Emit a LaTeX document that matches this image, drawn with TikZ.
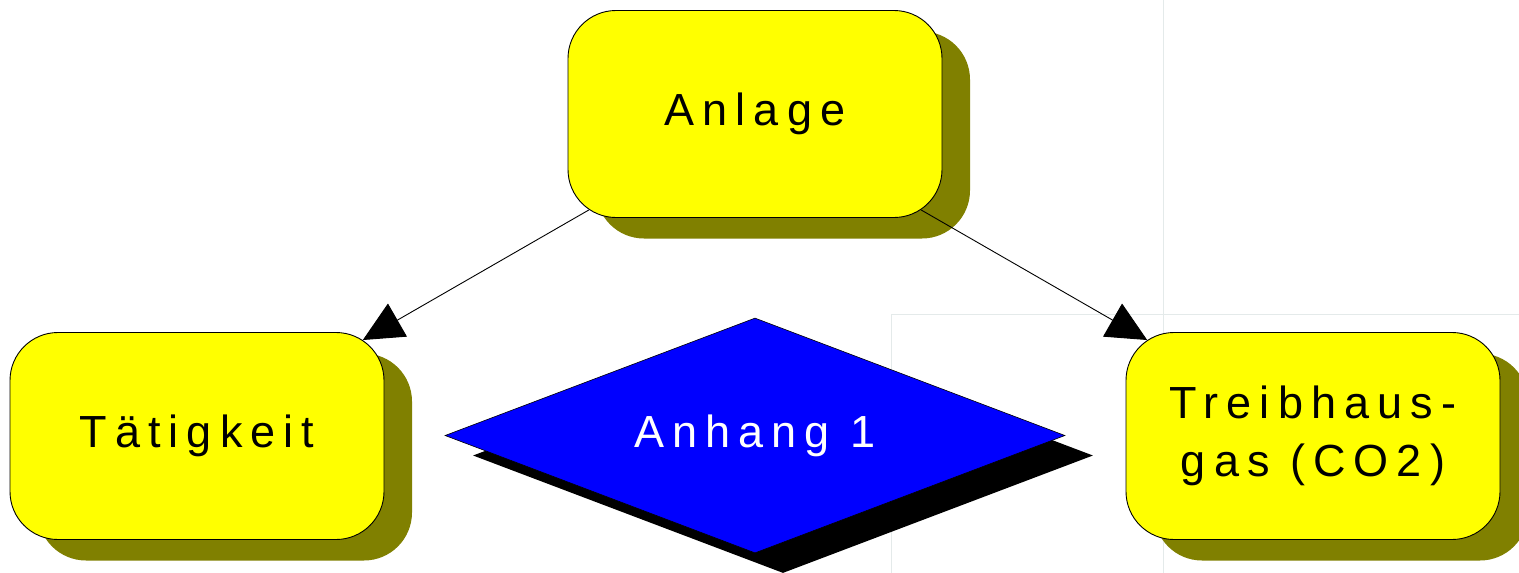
\documentclass[tikz,border=0pt]{standalone}
\usepackage{fontspec}
\usetikzlibrary{shapes.geometric,shadows,arrows.meta}
\newfontfamily\lblfont[LetterSpace=18]{Liberation Sans}
\definecolor{boxyellow}{RGB}{255,255,0}
\definecolor{boxshadow}{RGB}{128,128,0}
\definecolor{rhombblue}{RGB}{0,0,255}
\definecolor{gridgrey}{RGB}{228,234,234}
\tikzset{
  lbl/.style={font=\lblfont\fontsize{45}{58}\selectfont},
  roundbox/.style={lbl, rectangle, rounded corners=48pt, draw=black, line width=0.9pt,
    fill=boxyellow, minimum width=374pt, minimum height=207pt, inner sep=0pt, align=center,
    general shadow={shadow xshift=28pt, shadow yshift=-21pt, fill=boxshadow, draw=none}},
  rhomb/.style={lbl, diamond, aspect=2.6, draw=black, line width=0.6pt, fill=rhombblue,
    text=white, minimum width=620pt, minimum height=235pt, inner sep=0pt,
    general shadow={shadow xshift=28pt, shadow yshift=-20pt, fill=black, draw=none}},
  % the rounded border lies inside the rectangular anchor border, so the
  % connector is lengthened at both ends to reach the curved corners
  link/.style={line width=0.9pt, -{Triangle[length=40pt, width=38pt]},
    shorten <=-16pt, shorten >=-16pt},
  guide/.style={gridgrey, line width=1pt}
}
\begin{document}
\begin{tikzpicture}[x=1pt, y=-1pt]
  \useasboundingbox (0,0) rectangle (1519,573);
  \clip (0,0) rectangle (1519,573);
  % faint layout guides in the background
  \coordinate (g1) at (1163,0);
  \coordinate (g2) at (1163,573);
  \coordinate (g3) at (891,573);
  \coordinate (g4) at (891,314);
  \coordinate (g5) at (1519,314);
  \draw[guide] (g1) -- (g2);
  \draw[guide] (g3) -- (g4) -- (g5);
  % shapes
  \node[roundbox] (anlage) at (755,114) {Anlage};
  \node[roundbox] (taet) at (197,436) {Tätigkeit};
  \node[roundbox] (thg) at (1313,436) {Treibhaus-\\gas (CO2)};
  \node[rhomb] (anhang) at (755,435.5) {Anhang 1};
  % connectors
  \draw[link] (anlage) -- (taet);
  \draw[link] (anlage) -- (thg);
\end{tikzpicture}
\end{document}
